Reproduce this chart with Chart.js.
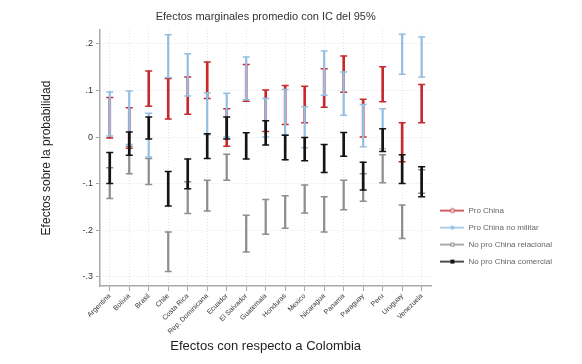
<!DOCTYPE html>
<html>
<head>
<meta charset="utf-8">
<script src="https://cdn.jsdelivr.net/npm/chart.js@4.4.0/dist/chart.umd.min.js"></script>
<style>
  html, body { margin: 0; padding: 0; background: #fff; }
  #wrap { width: 582px; height: 364px; }
</style>
</head>
<body>
<div id="wrap"><canvas id="chart" width="582" height="364"></canvas></div>
<script>
// Efectos marginales promedio (IC 95%) - cada serie es un intervalo [inferior, superior]

const countries = ['Argentina', 'Bolivia', 'Brasil', 'Chile', 'Costa Rica', 'Rep. Dominicana', 'Ecuador',
  'El Salvador', 'Guatemala', 'Honduras', 'Mexico', 'Nicaragua', 'Panama', 'Paraguay', 'Peru', 'Uruguay', 'Venezuela'];

// Pro China
const proChinaLo = [-0.002, -0.024, 0.066, 0.039, 0.049, 0.083, -0.020, 0.077, 0.012, 0.027, 0.031, 0.064, 0.096, 0.000, 0.076, -0.053, 0.031];
const proChinaHi = [0.085, 0.063, 0.142, 0.126, 0.129, 0.161, 0.061, 0.156, 0.101, 0.111, 0.109, 0.147, 0.174, 0.081, 0.151, 0.031, 0.113];

// Pro China no militar
const noMilitarLo = [0.002, -0.016, -0.043, 0.128, 0.088, 0.005, 0.000, 0.080, 0.000, 0.005, -0.023, 0.090, 0.047, -0.021, -0.025, 0.135, 0.129];
const noMilitarHi = [0.097, 0.099, 0.051, 0.220, 0.179, 0.095, 0.094, 0.172, 0.083, 0.102, 0.065, 0.185, 0.140, 0.070, 0.061, 0.221, 0.215];

// No pro China relacional
const relacionalLo = [-0.132, -0.079, -0.102, -0.289, -0.164, -0.159, -0.093, -0.247, -0.209, -0.196, -0.163, -0.204, -0.156, -0.138, -0.098, -0.218, -0.121];
const relacionalHi = [-0.066, -0.020, -0.046, -0.204, -0.096, -0.093, -0.037, -0.168, -0.134, -0.126, -0.103, -0.128, -0.093, -0.079, -0.038, -0.146, -0.070];

// No pro China comercial
const comercialLo = [-0.100, -0.039, -0.004, -0.148, -0.111, -0.046, -0.004, -0.047, -0.017, -0.049, -0.051, -0.076, -0.041, -0.114, -0.031, -0.100, -0.128];
const comercialHi = [-0.033, 0.011, 0.043, -0.074, -0.047, 0.007, 0.043, 0.009, 0.035, 0.004, -0.001, -0.016, 0.010, -0.054, 0.018, -0.038, -0.064];

const yTicks = [-0.3, -0.2, -0.1, 0, 0.1, 0.2];

const FONT = '"Liberation Sans", Arial, sans-serif';
const AXIS_GRAY = '#a9a9a9';

// order: menor = se dibuja encima
const series = [
  { name: 'Pro China', lo: proChinaLo, hi: proChinaHi, color: '#c62a2f', width: 2, order: 2, marker: 'circleOpen' },
  { name: 'Pro China no militar', lo: noMilitarLo, hi: noMilitarHi, color: '#95bfe2', width: 1.6, order: 1, marker: 'circle' },
  { name: 'No pro China relacional', lo: relacionalLo, hi: relacionalHi, color: '#8e8e8e', width: 1.6, order: 3, marker: 'squareOpen' },
  { name: 'No pro China comercial', lo: comercialLo, hi: comercialHi, color: '#141414', width: 2, order: 0, marker: 'square' },
];

function fmtTick(v) {
  if (Math.abs(v) < 1e-9) return '0';
  return (v < 0 ? '-' : '') + '.' + Math.round(Math.abs(v) * 10);
}

// icono de la leyenda: línea con marcador
function makeIcon(s) {
  const c = document.createElement('canvas');
  c.width = 24; c.height = 8;
  const g = c.getContext('2d');
  g.strokeStyle = s.color; g.fillStyle = s.color; g.lineWidth = 1.5;
  g.beginPath(); g.moveTo(0, 4); g.lineTo(24, 4); g.stroke();
  g.lineWidth = 1;
  if (s.marker === 'circleOpen' || s.marker === 'circle') {
    g.beginPath(); g.arc(12, 4, 2, 0, Math.PI * 2);
    if (s.marker === 'circle') g.fill();
    else { g.fillStyle = '#fff'; g.fill(); g.stroke(); }
  } else {
    if (s.marker === 'square') g.fillRect(10, 2, 4, 4);
    else { g.fillStyle = '#fff'; g.fillRect(10, 2, 4, 4); g.strokeRect(10.5, 2.5, 3, 3); }
  }
  return c;
}

const datasets = [];
series.forEach((s) => {
  datasets.push({
    type: 'bar',
    label: s.name,
    data: s.lo.map((v, k) => [v, s.hi[k]]),
    backgroundColor: s.color,
    borderWidth: 0,
    barThickness: s.width,
    grouped: false,
    order: s.order,
  });
  [s.lo, s.hi].forEach((arr) => {
    datasets.push({
      type: 'line',
      label: s.name + ' cap',
      data: arr,
      showLine: false,
      pointStyle: 'line',
      pointRadius: 3.5,
      pointBorderWidth: 1.5,
      pointBorderColor: s.color,
      borderColor: s.color,
      order: s.order,
    });
  });
});

const titlePlugin = {
  id: 'areaTitle',
  afterDraw(chart) {
    const { ctx, chartArea } = chart;
    ctx.save();
    ctx.font = '11px ' + FONT;
    ctx.fillStyle = '#333';
    ctx.textAlign = 'center';
    ctx.textBaseline = 'middle';
    ctx.fillText('Efectos marginales promedio con IC del 95%', (chartArea.left + chartArea.right) / 2, 17);
    ctx.restore();
  },
};

Chart.defaults.font.family = FONT;

new Chart(document.getElementById('chart').getContext('2d'), {
  type: 'bar',
  data: { labels: countries, datasets: datasets },
  plugins: [titlePlugin],
  options: {
    responsive: false,
    animation: false,
    events: [],
    layout: { padding: { left: 35, top: 30, bottom: 6, right: 20 } },
    scales: {
      x: {
        offset: true,
        grid: { offset: false, color: '#e4e4e4', tickColor: AXIS_GRAY, tickLength: 5, lineWidth: 1 },
        border: { color: AXIS_GRAY, width: 1.5, dash: [1, 2] },
        ticks: { autoSkip: false, maxRotation: 45, minRotation: 45, font: { size: 7 }, color: '#333', padding: 1 },
        title: { display: true, text: 'Efectos con respecto a Colombia', font: { size: 13 }, color: '#222', padding: { top: 4, bottom: 4 } },
        afterFit: (s) => { s.height = 72; },
      },
      y: {
        min: -0.32,
        max: 0.23,
        afterBuildTicks: (s) => { s.ticks = yTicks.map((v) => ({ value: v })); },
        grid: { color: '#e4e4e4', tickColor: AXIS_GRAY, tickLength: 4, lineWidth: 1 },
        border: { color: AXIS_GRAY, width: 1.5, dash: [1, 2] },
        ticks: { callback: (v) => fmtTick(v), font: { size: 9 }, color: '#333', padding: 3 },
        title: { display: true, text: 'Efectos sobre la probabilidad', font: { size: 12 }, color: '#222', padding: { top: 4, bottom: 4 } },
        afterFit: (s) => { s.width = 65; },
      },
    },
    plugins: {
      tooltip: { enabled: false },
      legend: {
        position: 'right',
        align: 'start',
        // título vacío: solo empuja los elementos hacia abajo
        title: { display: true, text: '', font: { size: 8 }, padding: { top: 0, bottom: 158 } },
        labels: {
          usePointStyle: true,
          pointStyleWidth: 24,
          boxHeight: 8,
          padding: 9,
          font: { size: 8 },
          color: '#222',
          generateLabels: () => series.map((s, i) => ({
            text: s.name,
            pointStyle: makeIcon(s),
            fillStyle: s.color,
            strokeStyle: s.color,
            lineWidth: 0,
            hidden: false,
            datasetIndex: i * 3,
          })),
        },
      },
    },
  },
});
</script>
</body>
</html>
